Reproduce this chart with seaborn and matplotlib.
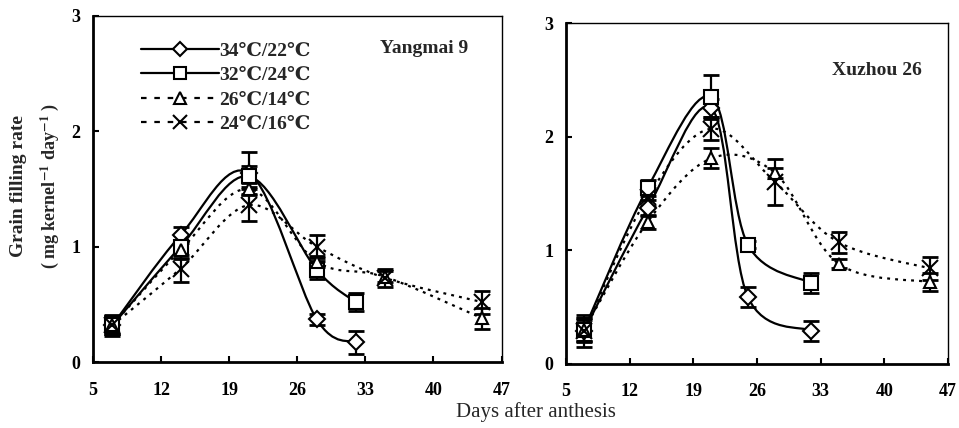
import numpy as np
import matplotlib
matplotlib.use('Agg')
import matplotlib.pyplot as plt
from matplotlib.path import Path
from matplotlib.patches import PathPatch
from matplotlib.lines import Line2D
import seaborn as sns

sns.set_theme(style='white')
plt.rcParams['font.family'] = ['Liberation Serif', 'DejaVu Serif', 'Noto Sans CJK SC']
plt.rcParams['mathtext.fontset'] = 'stix'

# ---------------- data ----------------
labels = ['34℃/22℃', '32℃/24℃', '26℃/14℃', '24℃/16℃']
markers = ['D', 's', '^', 'x']
msizes = [8, 10, 9, 11]
solid = [True, True, False, False]

# Yangmai 9
ym_x = [[7, 14, 21, 28, 32],
        [7, 14, 21, 28, 32],
        [7, 14, 21, 28, 35, 45],
        [7, 14, 21, 28, 35, 45]]
ym_y = [[0.32, 1.10, 1.64, 0.37, 0.17],
        [0.32, 1.00, 1.61, 0.80, 0.52],
        [0.32, 0.97, 1.50, 0.87, 0.74, 0.38],
        [0.32, 0.81, 1.36, 1.00, 0.73, 0.52]]
ym_err = [[0.09, 0.07, 0.18, 0.05, 0.10],
          [0.08, 0.10, 0.09, 0.08, 0.08],
          [0.08, 0.08, 0.05, 0.05, 0.05, 0.09],
          [0.08, 0.12, 0.14, 0.10, 0.08, 0.10]]

# Xuzhou 26
xz_x = [[7, 14, 21, 25, 32],
        [7, 14, 21, 25, 32],
        [7, 14, 21, 28, 35, 45],
        [7, 14, 21, 28, 35, 45]]
xz_y = [[0.29, 1.37, 2.25, 0.59, 0.29],
        [0.30, 1.55, 2.35, 1.05, 0.71],
        [0.30, 1.25, 1.81, 1.68, 0.88, 0.72],
        [0.29, 1.47, 2.07, 1.60, 1.07, 0.84]]
xz_err = [[0.10, 0.07, 0.08, 0.09, 0.09],
          [0.10, 0.07, 0.19, 0.03, 0.09],
          [0.10, 0.06, 0.09, 0.04, 0.04, 0.08],
          [0.14, 0.08, 0.10, 0.20, 0.09, 0.10]]

xticks = [5, 12, 19, 26, 33, 40, 47]
yticks = [0, 1, 2, 3]

DOT = (0, (1.3, 2.3))


def smooth_path(xs, ys):
    # Excel-style smoothed line: cubic bezier through the points
    p = np.column_stack([xs, ys]).astype(float)
    n = len(p)
    verts = [p[0]]
    codes = [Path.MOVETO]
    for i in range(n - 1):
        p0 = p[i - 1] if i > 0 else p[i]
        p3 = p[i + 2] if i + 2 < n else p[i + 1]
        c1 = p[i] + (p[i + 1] - p0) / 6
        c2 = p[i + 1] - (p3 - p[i]) / 6
        verts += [c1, c2, p[i + 1]]
        codes += [Path.CURVE4] * 3
    return Path(verts, codes)


def draw_panel(ax, xs_all, ys_all, errs_all, title, tpos):
    for k in range(4):
        ls = '-' if solid[k] else DOT
        patch = PathPatch(smooth_path(xs_all[k], ys_all[k]), facecolor='none',
                          edgecolor='black', lw=1.6, linestyle=ls, zorder=2)
        ax.add_patch(patch)
        ax.errorbar(xs_all[k], ys_all[k], yerr=errs_all[k], fmt='none',
                    ecolor='black', elinewidth=1.6, capsize=6, capthick=2, zorder=3)
        sns.lineplot(x=xs_all[k], y=ys_all[k], ax=ax, linestyle='none',
                     marker=markers[k], markersize=msizes[k], markerfacecolor='white',
                     markeredgecolor='black', markeredgewidth=1.5, color='black',
                     zorder=4, legend=False)
    ax.set_xlim(5, 47)
    ax.set_ylim(0, 3)
    ax.set_xticks(xticks)
    ax.set_yticks(yticks)
    ax.set_xlabel('')
    ax.set_ylabel('')
    ax.tick_params(direction='in', length=4, width=1.5, labelsize=13,
                   colors='black', bottom=True, left=True)
    ax.tick_params(axis='x', pad=14)
    ax.tick_params(axis='y', pad=9)
    for lab in ax.get_xticklabels() + ax.get_yticklabels():
        lab.set_fontweight('bold')
    for s in ['left', 'bottom']:
        ax.spines[s].set_linewidth(2)
        ax.spines[s].set_color('black')
    for s in ['top', 'right']:
        ax.spines[s].set_linewidth(1)
        ax.spines[s].set_color('black')
    ax.text(tpos[0], tpos[1], title, transform=ax.transAxes, ha='center',
            va='center', fontsize=14, fontweight='bold')


fig = plt.figure(figsize=(9.59, 4.28), dpi=100)
ax1 = fig.add_axes([0.097, 0.154, 0.426, 0.809])
ax2 = fig.add_axes([0.590, 0.150, 0.3985, 0.796])

draw_panel(ax1, ym_x, ym_y, ym_err, 'Yangmai 9', (0.81, 0.907))
draw_panel(ax2, xz_x, xz_y, xz_err, 'Xuzhou 26', (0.814, 0.862))

handles = []
for k in range(4):
    handles.append(Line2D([], [], color='black', lw=1.6,
                          linestyle='-' if solid[k] else (0, (2.5, 3.5)),
                          marker=markers[k], markersize=msizes[k] - 1,
                          markerfacecolor='white', markeredgecolor='black',
                          markeredgewidth=1.5))
leg = ax1.legend(handles, labels, loc='upper left', bbox_to_anchor=(0.075, 0.975),
                 frameon=False, handlelength=4.0, handletextpad=0.0,
                 labelspacing=0.35, prop={'size': 14, 'weight': 'bold'})

fig.text(0.019, 0.565, 'Grain filling rate', rotation=90, ha='center',
         va='center', fontsize=14, fontweight='bold')
fig.text(0.052, 0.565, r'( mg kernel$^{\mathbf{-1}}$ day$^{\mathbf{-1}}$ )',
         rotation=90, ha='center', va='center', fontsize=13, fontweight='bold')
fig.text(0.559, 0.037, 'Days after anthesis', ha='center', va='center', fontsize=15)

fig.savefig('out.png', dpi=100)
